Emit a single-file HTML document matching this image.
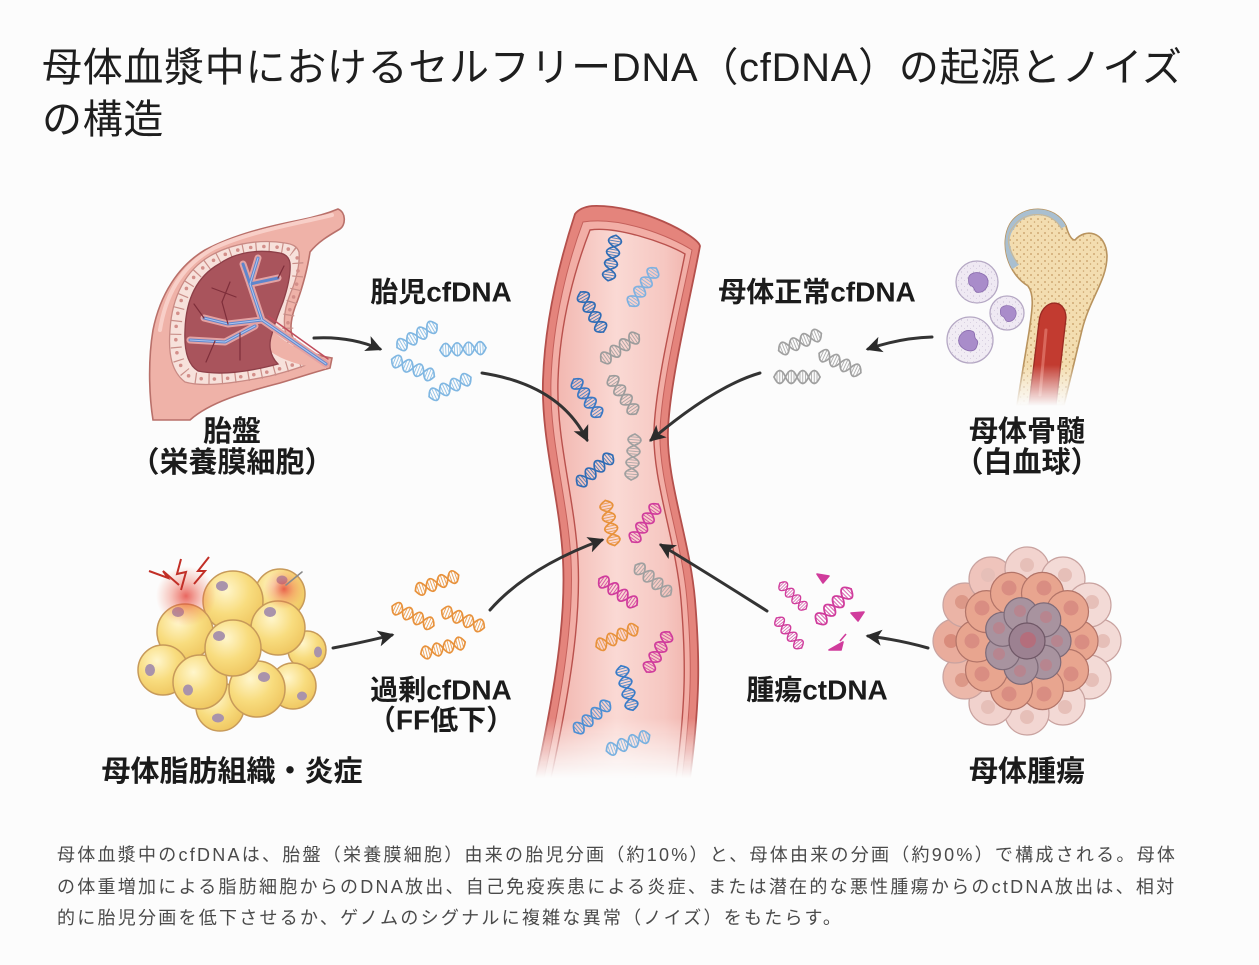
<!DOCTYPE html>
<html lang="ja">
<head>
<meta charset="utf-8">
<style>
  html,body{margin:0;padding:0;}
  body{width:1259px;height:965px;position:relative;background:#fcfcfc;overflow:hidden;
       font-family:"Liberation Sans","Noto Sans CJK JP",sans-serif;}
  .title{position:absolute;left:42px;top:42px;font-size:40px;line-height:52px;color:#1e1e1e;
         letter-spacing:0.7px;white-space:nowrap;font-weight:400;}
  .cap{position:absolute;left:57px;top:840px;font-size:18px;line-height:31.5px;letter-spacing:2.25px;
       color:#4a4a4a;white-space:nowrap;}
  svg{position:absolute;left:0;top:0;}
  .lb{font-family:"Liberation Sans","Noto Sans CJK JP",sans-serif;font-weight:bold;font-size:29px;
      fill:#1b1b1b;text-anchor:middle;dominant-baseline:central;}
  .lm{font-size:28px;}
</style>
</head>
<body>
<svg width="1259" height="965" viewBox="0 0 1259 965">
<defs>
  <g id="dna" fill="none" stroke="currentColor" stroke-linecap="round">
    <path stroke-width="1.7" d="M-23,0 Q-17.25,-13 -11.5,0 Q-5.75,13 0,0 Q5.75,-13 11.5,0 Q17.25,13 23,0"/>
    <path stroke-width="1.7" d="M-23,0 Q-17.25,13 -11.5,0 Q-5.75,-13 0,0 Q5.75,13 11.5,0 Q17.25,-13 23,0"/>
    <path stroke-width="0.9" opacity="0.85" d="M-20,-4.8V4.8 M-17.25,-6.2V6.2 M-14.5,-4.8V4.8 M-8.5,-4.8V4.8 M-5.75,-6.2V6.2 M-3,-4.8V4.8 M3,-4.8V4.8 M5.75,-6.2V6.2 M8.5,-4.8V4.8 M14.5,-4.8V4.8 M17.25,-6.2V6.2 M20,-4.8V4.8"/>
  </g>
  <path id="nuc" d="M-9,-4 C-9,-11 3,-12 8,-6 C12,0 8,9 0,9 C-4,9 -3,4 -6,3 C-9,2 -9,0 -9,-4 Z"/>
  <marker id="ah" viewBox="0 0 10 10" refX="8.5" refY="5" markerWidth="5.4" markerHeight="5.4" orient="auto" markerUnits="strokeWidth">
    <path d="M0,0 L10,5 L0,10 L2.5,5 Z" fill="#2b2b2b"/>
  </marker>
  <linearGradient id="vfade" gradientUnits="userSpaceOnUse" x1="0" y1="718" x2="0" y2="778">
    <stop offset="0" stop-color="#fff"/><stop offset="1" stop-color="#000"/>
  </linearGradient>
  <mask id="vm"><rect width="1259" height="965" fill="url(#vfade)"/></mask>
  <linearGradient id="bfade" gradientUnits="userSpaceOnUse" x1="0" y1="365" x2="0" y2="406">
    <stop offset="0" stop-color="#fff"/><stop offset="1" stop-color="#000"/>
  </linearGradient>
  <mask id="bm"><rect width="1259" height="965" fill="url(#bfade)"/></mask>
  <linearGradient id="lum" gradientUnits="userSpaceOnUse" x1="555" y1="0" x2="692" y2="0">
    <stop offset="0" stop-color="#f2b6af"/><stop offset="0.45" stop-color="#fad9d4"/>
    <stop offset="0.8" stop-color="#f6c7c1"/><stop offset="1" stop-color="#f0b2ab"/>
  </linearGradient>
  <radialGradient id="fat" cx="0.38" cy="0.32" r="0.72">
    <stop offset="0" stop-color="#fff6cc"/><stop offset="0.55" stop-color="#f8dc7e"/><stop offset="1" stop-color="#efc660"/>
  </radialGradient>
  <radialGradient id="glow" cx="0.5" cy="0.5" r="0.5">
    <stop offset="0" stop-color="#e2352c" stop-opacity="0.75"/><stop offset="0.5" stop-color="#ec5a45" stop-opacity="0.35"/>
    <stop offset="1" stop-color="#f07050" stop-opacity="0"/>
  </radialGradient>
  <pattern id="sp" width="7" height="7" patternUnits="userSpaceOnUse">
    <circle cx="2" cy="2" r="0.9" fill="#c49a62"/><circle cx="5.5" cy="5" r="0.75" fill="#caa26c"/>
  </pattern>
  <pattern id="wd" width="6" height="6" patternUnits="userSpaceOnUse">
    <circle cx="1.5" cy="2" r="0.6" fill="#c9bfd4"/><circle cx="4.5" cy="4.5" r="0.5" fill="#d2c8dc"/>
  </pattern>
  <path id="bonep" d="M1017,405 L1029,332 C1033,306 1034,294 1028,286 C1008,274 999,244 1010,224 C1022,204 1055,204 1066,226 Q1070,240 1075,240 C1085,228 1106,231 1107,256 C1107,280 1090,298 1082,330 L1064,405 Z"/>
  <clipPath id="bclip"><use href="#bonep"/></clipPath>
</defs>

<!-- ================= PLACENTA ================= -->
<g>
  <path d="M338,209 C326,214 315,217 300,220 C270,226 235,234 205,250 C178,266 160,295 153,330 C148,360 149,395 153,420 L190,420 C210,402 245,392 280,383 C300,377 315,372 330,368 L332,358 C318,356 302,350 294,340 C288,330 292,314 297,302 C303,286 308,266 310,252 C318,242 328,236 340,229 C346,225 346,212 338,209 Z"
        fill="#efb2a8" stroke="#b9706a" stroke-width="1.6"/>
  <path d="M332,215 C300,223 250,231 214,248 C184,264 166,292 160,330" fill="none" stroke="#f8cfc8" stroke-width="4" stroke-linecap="round"/>
  <path d="M285,243 C262,239 232,243 210,256 C186,270 172,296 170,330 C168,355 172,372 185,382 C205,388 240,382 270,376 C290,371 305,366 318,360 C300,352 287,342 285,330 C283,318 286,304 291,292 C297,278 300,262 299,252 C297,246 292,244 285,243 Z"
        fill="#f7e1db" stroke="#c98a84" stroke-width="1.3"/>
  <path d="M283,248 C260,244 234,248 214,260 C191,273 177,298 176,330 C175,352 178,368 190,377 C212,382 245,377 272,371 C290,366 302,362 311,359 C296,351 289,342 288,332 C287,320 290,306 294,296 C298,282 299,266 297,257 C295,251 290,249 283,248"
        fill="none" stroke="#c98e88" stroke-width="11" stroke-dasharray="1.2 12"/>
  <path d="M283,248 C260,244 234,248 214,260 C191,273 177,298 176,330 C175,352 178,368 190,377 C212,382 245,377 272,371 C290,366 302,362 311,359 C296,351 289,342 288,332 C287,320 290,306 294,296 C298,282 299,266 297,257 C295,251 290,249 283,248"
        fill="none" stroke="#d38f8a" stroke-width="3.6" stroke-dasharray="0 13.2" stroke-dashoffset="-6" stroke-linecap="round"/>
  <path d="M266,324 C280,340 300,352 326,360 L326,369 C300,366 280,360 266,348 Z" fill="#efb2a8"/>
  <path d="M280,253 C258,249 236,252 219,264 C198,276 186,298 185,330 C184,350 188,365 198,371 C222,376 252,371 278,364 C270,356 268,345 272,334 C275,322 279,312 283,302 C287,290 291,274 290,263 C289,257 285,254 280,253 Z"
        fill="#a9545c" stroke="#8d3f48" stroke-width="1.3"/>
  <g fill="none" stroke-linecap="round" stroke-linejoin="round">
    <g stroke="#e3a2a3" stroke-width="7">
      <path d="M326,364 L262,320 L250,284 L258,258"/><path d="M250,284 L243,264"/>
      <path d="M262,320 L228,324 L204,318"/><path d="M255,326 L225,342 L190,340"/>
      <path d="M250,284 L278,278"/>
    </g>
    <g stroke="#5f86cc" stroke-width="3">
      <path d="M326,364 L262,320 L250,284 L258,258"/><path d="M250,284 L243,264"/>
      <path d="M262,320 L228,324 L204,318"/><path d="M255,326 L225,342 L190,340"/>
      <path d="M250,284 L278,278"/>
    </g>
    <g stroke="#abc4ef" stroke-width="1.1">
      <path d="M326,364 L262,320 L250,284 L258,258"/>
      <path d="M262,320 L228,324 L204,318"/><path d="M255,326 L225,342 L190,340"/>
    </g>
    <path d="M328,359 L268,316" stroke="#c04c5c" stroke-width="1.5"/>
    <g stroke="#7e2e3a" stroke-width="1.2">
      <path d="M228,324 L222,302"/><path d="M240,333 L240,360"/><path d="M215,341 L206,362"/>
      <path d="M204,318 L194,304"/><path d="M278,278 L284,266"/><path d="M236,297 L212,288"/>
      <path d="M222,302 L230,282"/>
    </g>
  </g>
</g>

<!-- ================= BONE + WBC ================= -->
<g mask="url(#bm)">
  <use href="#bonep" fill="#f3ddb0" stroke="#b8935e" stroke-width="1.6"/>
  <use href="#bonep" fill="url(#sp)"/>
  <g clip-path="url(#bclip)">
    <path d="M1014,268 C1002,250 1000,236 1010,224 C1022,204 1055,204 1066,226" fill="none" stroke="#a9bfd0" stroke-width="12"/>
    <path d="M1018,264 C1007,248 1005,236 1014,226 C1025,210 1053,210 1062,230" fill="none" stroke="#c9b896" stroke-width="1"/>
  </g>
  <path d="M1029,405 L1039,322 C1041,298 1066,297 1066,318 L1056,405 Z" fill="#c23b30" stroke="#9a2a22" stroke-width="1.3"/>
  <path d="M1046,330 L1040,395" stroke="#d9685c" stroke-width="3" stroke-linecap="round"/>
</g>
<g>
  <circle cx="977" cy="282" r="21" fill="#efe9f3" stroke="#b5a8c4" stroke-width="1.3"/>
  <circle cx="977" cy="282" r="21" fill="url(#wd)"/>
  <use href="#nuc" transform="translate(978,283) scale(1.05)" fill="#a98cca" stroke="#8a6cae" stroke-width="0.8"/>
  <circle cx="1007" cy="313" r="17" fill="#efe9f3" stroke="#b5a8c4" stroke-width="1.3"/>
  <circle cx="1007" cy="313" r="17" fill="url(#wd)"/>
  <use href="#nuc" transform="translate(1008,314) scale(0.85)" fill="#a98cca" stroke="#8a6cae" stroke-width="0.8"/>
  <circle cx="970" cy="340" r="23" fill="#f1ecf4" stroke="#b5a8c4" stroke-width="1.3"/>
  <circle cx="970" cy="340" r="23" fill="url(#wd)"/>
  <use href="#nuc" transform="translate(969,340) scale(1.05) rotate(200)" fill="#a98cca" stroke="#8a6cae" stroke-width="0.8"/>
</g>

<!-- ================= FAT CELLS ================= -->
<g stroke="#c79a5a" stroke-width="1.5" fill="url(#fat)">
  <circle cx="307" cy="650" r="19"/><ellipse cx="318" cy="652" rx="4" ry="5.5" fill="#a993ab" stroke="none"/>
  <circle cx="280" cy="594" r="25"/><ellipse cx="282" cy="580" rx="5.5" ry="4.5" fill="#a993ab" stroke="none"/>
  <circle cx="233" cy="601" r="30"/><ellipse cx="222" cy="586" rx="6" ry="5" fill="#a993ab" stroke="none"/>
  <circle cx="278" cy="628" r="27"/><ellipse cx="270" cy="612" rx="6" ry="5" fill="#a993ab" stroke="none"/>
  <circle cx="185" cy="632" r="28"/><ellipse cx="178" cy="612" rx="6" ry="5" fill="#a993ab" stroke="none"/>
  <circle cx="163" cy="670" r="25"/><ellipse cx="150" cy="670" rx="5" ry="6" fill="#a993ab" stroke="none"/>
  <circle cx="293" cy="686" r="23"/><ellipse cx="302" cy="696" rx="5" ry="4.5" fill="#a993ab" stroke="none"/>
  <circle cx="220" cy="707" r="24"/><ellipse cx="218" cy="718" rx="6" ry="4.5" fill="#a993ab" stroke="none"/>
  <circle cx="257" cy="689" r="28"/><ellipse cx="264" cy="677" rx="6" ry="5" fill="#a993ab" stroke="none"/>
  <circle cx="200" cy="682" r="27"/><ellipse cx="188" cy="690" rx="5" ry="5.5" fill="#a993ab" stroke="none"/>
  <circle cx="233" cy="648" r="28"/><ellipse cx="219" cy="636" rx="6" ry="5" fill="#a993ab" stroke="none"/>
</g>
<circle cx="186" cy="596" r="30" fill="url(#glow)"/>
<circle cx="284" cy="589" r="20" fill="url(#glow)"/>
<g fill="none" stroke="#c22f27" stroke-width="2" stroke-linejoin="miter">
  <path d="M149,571 L168,578 L163,571 L179,585"/>
  <path d="M181,559 L177,574 L186,572 L181,590"/>
  <path d="M209,557 L198,571 L205,571 L194,584"/>
</g>
<path d="M302,572 L286,585" stroke="#8a8a8a" stroke-width="1.6" stroke-linecap="round"/>

<!-- ================= TUMOR ================= -->
<g stroke-width="1.2">
  <g stroke="#c9a3a0">
    <circle cx="1099" cy="641" r="22" fill="#f3dad6"/>
    <circle cx="1089" cy="677" r="22" fill="#f3dad6"/>
    <circle cx="1063" cy="703" r="22" fill="#f3d9d5"/>
    <circle cx="1027" cy="713" r="22" fill="#f2d6d2"/>
    <circle cx="991" cy="703" r="22" fill="#f1d2cd"/>
    <circle cx="965" cy="677" r="22" fill="#ecb8aa"/>
    <circle cx="955" cy="641" r="22" fill="#e9ac9c"/>
    <circle cx="965" cy="605" r="22" fill="#ebb4a6"/>
    <circle cx="991" cy="579" r="22" fill="#efc4bc"/>
    <circle cx="1027" cy="569" r="22" fill="#f2d3ce"/>
    <circle cx="1063" cy="579" r="22" fill="#f3dad6"/>
    <circle cx="1089" cy="605" r="22" fill="#f3dad6"/>
  </g>
  <g fill="#e6bfb8" stroke="none">
    <circle cx="1103" cy="641" r="7"/><circle cx="1092" cy="680" r="7"/><circle cx="1065" cy="707" r="7"/>
    <circle cx="1027" cy="717" r="7"/><circle cx="988" cy="707" r="7"/><circle cx="962" cy="680" r="7" fill="#dc9888"/>
    <circle cx="951" cy="641" r="7" fill="#d98c7c"/><circle cx="962" cy="602" r="7" fill="#dc9888"/>
    <circle cx="988" cy="575" r="7"/><circle cx="1027" cy="565" r="7"/><circle cx="1065" cy="575" r="7"/><circle cx="1092" cy="602" r="7"/>
  </g>
  <g stroke="#b27468" fill="#e8a58f">
    <circle cx="1077" cy="641" r="21"/><circle cx="1067.5" cy="670.4" r="21"/><circle cx="1042.5" cy="688.6" r="21"/>
    <circle cx="1011.5" cy="688.6" r="21"/><circle cx="986.5" cy="670.4" r="21"/><circle cx="977" cy="641" r="21"/>
    <circle cx="986.5" cy="611.6" r="21"/><circle cx="1011.5" cy="593.4" r="21"/><circle cx="1042.5" cy="593.4" r="21"/>
    <circle cx="1067.5" cy="611.6" r="21"/>
  </g>
  <g fill="#d98d82" stroke="none">
    <circle cx="1082" cy="642" r="7.5"/><circle cx="1071" cy="674" r="7.5"/><circle cx="1044" cy="694" r="7.5"/>
    <circle cx="1009" cy="694" r="7.5"/><circle cx="982" cy="674" r="7.5"/><circle cx="972" cy="641" r="7.5"/>
    <circle cx="982" cy="608" r="7.5"/><circle cx="1009" cy="588" r="7.5"/><circle cx="1044" cy="588" r="7.5"/><circle cx="1071" cy="608" r="7.5"/>
  </g>
  <g stroke="#7d6a78" fill="#a8939f">
    <circle cx="1054" cy="641" r="17"/><circle cx="1043.8" cy="662.1" r="17"/><circle cx="1021" cy="667.3" r="17"/>
    <circle cx="1002.7" cy="652.7" r="17"/><circle cx="1002.7" cy="629.3" r="17"/><circle cx="1021" cy="614.7" r="17"/>
    <circle cx="1043.8" cy="619.9" r="17"/>
  </g>
  <g fill="#b7858f" stroke="none">
    <circle cx="1057" cy="641" r="6"/><circle cx="1046" cy="665" r="6"/><circle cx="1020" cy="671" r="6"/>
    <circle cx="999" cy="654" r="6"/><circle cx="999" cy="628" r="6"/><circle cx="1020" cy="611" r="6"/><circle cx="1046" cy="617" r="6"/>
  </g>
  <circle cx="1027" cy="641" r="18" fill="#9c8191" stroke="#6f5766"/>
  <circle cx="1028" cy="640" r="8" fill="#b46e7c"/>
</g>

<!-- ================= VESSEL ================= -->
<g mask="url(#vm)">
  <path d="M575,214 C560,260 545,320 543,380 C541,440 560,500 563,560 C566,620 555,690 536,778 L690,778 C700,700 700,660 695,600 C690,540 666,480 668,430 C670,380 690,300 700,246 C698,236 640,204 592,206 C583,207 578,210 575,214 Z"
        fill="#e4847c" stroke="#b4504c" stroke-width="1.8"/>
  <path d="M583,222 C568,262 553,320 551,380 C549,440 568,500 571,560 C574,620 563,690 544,778 L682,778 C692,700 692,660 687,600 C682,540 658,480 660,430 C662,380 682,300 692,250 C670,236 620,216 583,222 Z"
        fill="#f2aea6" stroke="#c4605b" stroke-width="1"/>
  <path d="M590,230 C576,266 560,320 558,380 C556,440 575,500 578,560 C581,620 570,690 551,778 L676,778 C686,700 686,660 681,600 C676,540 652,480 654,430 C656,380 676,300 685,254 C665,242 615,226 590,230 Z"
        fill="url(#lum)" stroke="#b9514d" stroke-width="1.4"/>
</g>

<!-- DNA inside vessel -->
<g>
  <use href="#dna" transform="translate(612,258) rotate(-80)" style="color:#2f6cb5"/>
  <use href="#dna" transform="translate(643,287) rotate(-55)" style="color:#7fb1e0"/>
  <use href="#dna" transform="translate(592,312) rotate(60)" style="color:#2f6cb5"/>
  <use href="#dna" transform="translate(620,348) rotate(-35)" style="color:#9c9c9c"/>
  <use href="#dna" transform="translate(587,398) rotate(55)" style="color:#3a78c4"/>
  <use href="#dna" transform="translate(623,395) rotate(55)" style="color:#9c9c9c"/>
  <use href="#dna" transform="translate(633,457) rotate(-85)" style="color:#a0a0a0"/>
  <use href="#dna" transform="translate(595,470) rotate(-40)" style="color:#2f6cb5"/>
  <use href="#dna" transform="translate(610,523) rotate(78)" style="color:#e8923c"/>
  <use href="#dna" transform="translate(645,523) rotate(-55)" style="color:#d03c9c"/>
  <use href="#dna" transform="translate(653,580) rotate(40)" style="color:#a0a0a0"/>
  <use href="#dna" transform="translate(618,592) rotate(35)" style="color:#d03c9c"/>
  <use href="#dna" transform="translate(617,637) rotate(-25)" style="color:#e8923c"/>
  <use href="#dna" transform="translate(658,652) rotate(-60)" style="color:#d03c9c"/>
  <use href="#dna" transform="translate(627,688) rotate(75)" style="color:#3a7cc8"/>
  <use href="#dna" transform="translate(592,717) rotate(-40)" style="color:#4d8fd4"/>
  <use href="#dna" transform="translate(628,743) rotate(-20)" style="color:#79b1e0"/>
</g>

<!-- DNA groups outside -->
<g>
  <use href="#dna" transform="translate(417,336) rotate(-30)" style="color:#80b7e2"/>
  <use href="#dna" transform="translate(463,349) rotate(-3)" style="color:#80b7e2"/>
  <use href="#dna" transform="translate(413,368) rotate(22)" style="color:#80b7e2"/>
  <use href="#dna" transform="translate(450,387) rotate(-25)" style="color:#80b7e2"/>

  <use href="#dna" transform="translate(800,342) rotate(-22)" style="color:#a0a0a0"/>
  <use href="#dna" transform="translate(840,363) rotate(25)" style="color:#a0a0a0"/>
  <use href="#dna" transform="translate(797,377) rotate(0)" style="color:#a0a0a0"/>

  <use href="#dna" transform="translate(437,583) rotate(-20)" style="color:#e8923c"/>
  <use href="#dna" transform="translate(413,616) rotate(25)" style="color:#e8923c"/>
  <use href="#dna" transform="translate(463,619) rotate(22)" style="color:#e8923c"/>
  <use href="#dna" transform="translate(443,648) rotate(-15)" style="color:#e8923c"/>

  <use href="#dna" transform="translate(793,596) rotate(45) scale(0.8)" style="color:#d03c9c"/>
  <use href="#dna" transform="translate(834,606) rotate(-45) scale(1.05)" style="color:#d03c9c"/>
  <use href="#dna" transform="translate(789,633) rotate(50) scale(0.85)" style="color:#d03c9c"/>
  <g fill="#d03c9c" stroke="#d03c9c" stroke-width="1.6" stroke-linejoin="round">
    <path d="M817,574 L829,576 L823,583 Z"/>
    <path d="M851,613 L864,612 L858,621 Z"/>
    <path d="M829,650 L843,642 L841,650 Z"/>
    <path d="M840,641 L846,634" fill="none"/>
  </g>
</g>

<!-- ================= ARROWS ================= -->
<g fill="none" stroke="#333" stroke-width="3" stroke-linecap="round" marker-end="url(#ah)">
  <path d="M314,338 Q350,336 380,349"/>
  <path d="M482,373 Q560,385 587,440"/>
  <path d="M932,337 Q900,338 868,349"/>
  <path d="M760,373 Q715,386 651,440"/>
  <path d="M333,648 Q365,642 392,635"/>
  <path d="M490,610 Q528,567 602,540"/>
  <path d="M928,648 Q900,640 868,636"/>
  <path d="M767,611 Q712,576 661,545"/>
</g>

<!-- ================= LABELS ================= -->
<text class="lb lm" x="441" y="292">胎児cfDNA</text>
<text class="lb" x="232" y="432">胎盤</text>
<text class="lb" x="232" y="463">（栄養膜細胞）</text>
<text class="lb lm" x="817" y="292">母体正常cfDNA</text>
<text class="lb" x="1027" y="432">母体骨髄</text>
<text class="lb" x="1027" y="463">（白血球）</text>
<text class="lb lm" x="441" y="690">過剰cfDNA</text>
<text class="lb lm" x="441" y="720">（FF低下）</text>
<text class="lb" x="232" y="772">母体脂肪組織・炎症</text>
<text class="lb lm" x="817" y="690">腫瘍ctDNA</text>
<text class="lb" x="1027" y="772">母体腫瘍</text>
</svg>

<div class="title">母体血漿中におけるセルフリーDNA（cfDNA）の起源とノイズ<br>の構造</div>

<div class="cap">母体血漿中のcfDNAは、胎盤（栄養膜細胞）由来の胎児分画（約10%）と、母体由来の分画（約90%）で構成される。母体<br>の体重増加による脂肪細胞からのDNA放出、自己免疫疾患による炎症、または潜在的な悪性腫瘍からのctDNA放出は、相対<br>的に胎児分画を低下させるか、ゲノムのシグナルに複雑な異常（ノイズ）をもたらす。</div>
</body>
</html>
